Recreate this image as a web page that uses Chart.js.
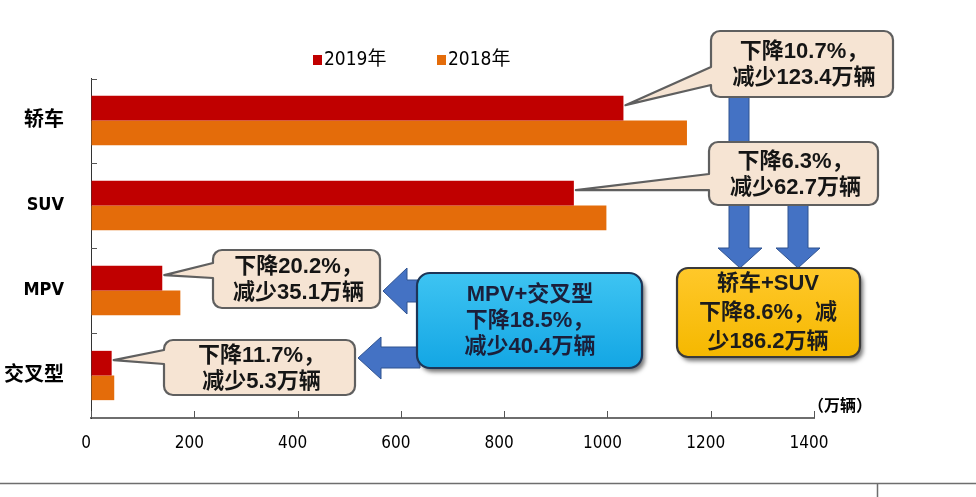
<!DOCTYPE html>
<html>
<head>
<meta charset="utf-8">
<script src="https://cdn.jsdelivr.net/npm/chart.js@4.4.1/dist/chart.umd.min.js"></script>
<style>
	html, body { margin: 0; padding: 0; background: #fff; }
	canvas { display: block; }
</style>
</head>
<body>
<canvas id="salesChart" width="976" height="497"></canvas>
<script>
// 分车型销量（万辆）
const categories = ["轿车", "SUV", "MPV", "交叉型"];
const seriesNames = ["2019年", "2018年"];
const sales2019 = [1031, 935, 138, 40];
const sales2018 = [1154, 998, 173, 45];
const xTicks = [0, 200, 400, 600, 800, 1000, 1200, 1400];
const unitLabel = "（万辆）";

const RED = "#c00000";
const ORANGE = "#e46c0a";
const NARROW = '"DejaVu Sans Condensed", "Noto Sans CJK SC", sans-serif';
const BOLD_FONT = '"Liberation Sans", "Noto Sans CJK SC", sans-serif';

// callout boxes: [x, y, w, h], pointer base on left edge, bar index it points to
const callouts = [
	{ box: [711, 31, 182, 66], base: [67, 85], bar: 0, lines: ["下降10.7%，", "减少123.4万辆"] },
	{ box: [709, 142, 169, 63], base: [174, 190], bar: 1, lines: ["下降6.3%，", "减少62.7万辆"] },
	{ box: [213, 250, 167, 58], base: [263, 278], bar: 2, lines: ["下降20.2%，", "减少35.1万辆"] },
	{ box: [164, 340, 191, 55], base: [350, 364], bar: 3, lines: ["下降11.7%，", "减少5.3万辆"] },
];

function roundRectPath(ctx, x, y, w, h, r) {
	ctx.beginPath();
	ctx.moveTo(x + r, y);
	ctx.lineTo(x + w - r, y);
	ctx.arcTo(x + w, y, x + w, y + r, r);
	ctx.lineTo(x + w, y + h - r);
	ctx.arcTo(x + w, y + h, x + w - r, y + h, r);
	ctx.lineTo(x + r, y + h);
	ctx.arcTo(x, y + h, x, y + h - r, r);
	ctx.lineTo(x, y + r);
	ctx.arcTo(x, y, x + r, y, r);
	ctx.closePath();
}

function bubblePath(ctx, x, y, w, h, r, tip, b1, b2) {
	ctx.beginPath();
	ctx.moveTo(x + r, y);
	ctx.lineTo(x + w - r, y);
	ctx.arcTo(x + w, y, x + w, y + r, r);
	ctx.lineTo(x + w, y + h - r);
	ctx.arcTo(x + w, y + h, x + w - r, y + h, r);
	ctx.lineTo(x + r, y + h);
	ctx.arcTo(x, y + h, x, y + h - r, r);
	ctx.lineTo(x, b2);
	ctx.lineTo(tip.x, tip.y);
	ctx.lineTo(x, b1);
	ctx.lineTo(x, y + r);
	ctx.arcTo(x, y, x + r, y, r);
	ctx.closePath();
}

function centerLines(ctx, lines, cx, cy, gap) {
	const start = cy - (gap * (lines.length - 1)) / 2;
	lines.forEach((t, i) => ctx.fillText(t, cx, start + i * gap));
}

// block arrow, pointing down or left
function blockArrow(ctx, dir, a) {
	ctx.beginPath();
	if (dir === "down") {
		ctx.moveTo(a.s0, a.from);
		ctx.lineTo(a.s1, a.from);
		ctx.lineTo(a.s1, a.head);
		ctx.lineTo(a.h1, a.head);
		ctx.lineTo((a.h0 + a.h1) / 2, a.tip);
		ctx.lineTo(a.h0, a.head);
		ctx.lineTo(a.s0, a.head);
	} else {
		ctx.moveTo(a.from, a.s0);
		ctx.lineTo(a.head, a.s0);
		ctx.lineTo(a.head, a.h0);
		ctx.lineTo(a.tip, (a.h0 + a.h1) / 2);
		ctx.lineTo(a.head, a.h1);
		ctx.lineTo(a.head, a.s1);
		ctx.lineTo(a.from, a.s1);
	}
	ctx.closePath();
	ctx.fillStyle = "#4472c4";
	ctx.fill();
	ctx.strokeStyle = "#2f528f";
	ctx.lineWidth = 1;
	ctx.stroke();
}

const decorPlugin = {
	id: "decor",
	afterDraw(chart) {
		const ctx = chart.ctx;
		const xs = chart.scales.x;
		const ys = chart.scales.y;
		const area = chart.chartArea;
		ctx.save();

		// inner tick marks
		ctx.strokeStyle = "#555";
		ctx.lineWidth = 1;
		xTicks.forEach((v) => {
			const px = Math.round(xs.getPixelForValue(v)) + 0.5;
			ctx.beginPath();
			ctx.moveTo(px, area.bottom);
			ctx.lineTo(px, area.bottom - 7);
			ctx.stroke();
		});
		for (let i = 0; i < categories.length; i++) {
			const py = i === 0
				? area.top + 1.5
				: Math.round((ys.getPixelForValue(i - 1) + ys.getPixelForValue(i)) / 2) + 0.5;
			ctx.beginPath();
			ctx.moveTo(area.left, py);
			ctx.lineTo(area.left + 6, py);
			ctx.stroke();
		}

		// unit label
		ctx.fillStyle = "#000";
		ctx.font = "bold 16px " + NARROW;
		ctx.textAlign = "left";
		ctx.textBaseline = "middle";
		ctx.fillText(unitLabel, area.right - 6, area.bottom - 11);

		// legend
		const legendX = [313, 437];
		chart.data.datasets.forEach((ds, i) => {
			ctx.fillStyle = ds.backgroundColor;
			ctx.fillRect(legendX[i], 55, 9, 10);
			ctx.fillStyle = "#000";
			ctx.font = "19px " + NARROW;
			ctx.fillText(ds.label, legendX[i] + 11, 60);
		});

		// down arrows into the sedan+SUV box
		blockArrow(ctx, "down", { s0: 729, s1: 749, from: 96, head: 248, h0: 718, h1: 762, tip: 268 });
		blockArrow(ctx, "down", { s0: 788, s1: 808, from: 204, head: 248, h0: 776, h1: 820, tip: 268 });
		// left arrows from the MPV+crossover box
		blockArrow(ctx, "left", { s0: 280, s1: 302, from: 420, head: 407, h0: 268, h1: 314, tip: 383 });
		blockArrow(ctx, "left", { s0: 347, s1: 368, from: 420, head: 381, h0: 337, h1: 379, tip: 358 });

		// speech bubbles
		const bars = chart.getDatasetMeta(0).data;
		callouts.forEach((c) => {
			const [x, y, w, h] = c.box;
			const bar = bars[c.bar];
			const tip = { x: bar.x + 2, y: bar.y - 3 };
			bubblePath(ctx, x, y, w, h, 9, tip, c.base[0], c.base[1]);
			ctx.fillStyle = "#f6e4d3";
			ctx.fill();
			ctx.strokeStyle = "#5f5f5f";
			ctx.lineWidth = 2.2;
			ctx.lineJoin = "round";
			ctx.stroke();
			ctx.fillStyle = "#151515";
			ctx.font = "bold 22px " + BOLD_FONT;
			ctx.textAlign = "center";
			ctx.textBaseline = "middle";
			centerLines(ctx, c.lines, x + w / 2 + 2, y + h / 2 + 1, 26);
		});

		// sedan + SUV summary box
		ctx.save();
		ctx.shadowColor = "rgba(0,0,0,0.55)";
		ctx.shadowOffsetX = 3;
		ctx.shadowOffsetY = 4;
		ctx.shadowBlur = 4;
		roundRectPath(ctx, 677, 268, 183, 89, 11);
		let g = ctx.createLinearGradient(0, 268, 0, 357);
		g.addColorStop(0, "#ffc82a");
		g.addColorStop(1, "#f5b800");
		ctx.fillStyle = g;
		ctx.fill();
		ctx.restore();
		roundRectPath(ctx, 677, 268, 183, 89, 11);
		ctx.strokeStyle = "#3a3a3a";
		ctx.lineWidth = 2.2;
		ctx.stroke();
		ctx.fillStyle = "#1c1c1c";
		ctx.font = "bold 22px " + BOLD_FONT;
		centerLines(ctx, ["轿车+SUV", "下降8.6%，减", "少186.2万辆"], 768, 313, 29);

		// MPV + crossover summary box
		ctx.save();
		ctx.shadowColor = "rgba(0,0,0,0.55)";
		ctx.shadowOffsetX = 3;
		ctx.shadowOffsetY = 4;
		ctx.shadowBlur = 4;
		roundRectPath(ctx, 417, 273, 225, 95, 13);
		g = ctx.createLinearGradient(0, 273, 0, 368);
		g.addColorStop(0, "#3ec4f2");
		g.addColorStop(1, "#13a6e4");
		ctx.fillStyle = g;
		ctx.fill();
		ctx.restore();
		roundRectPath(ctx, 417, 273, 225, 95, 13);
		ctx.strokeStyle = "#1d3557";
		ctx.lineWidth = 2.2;
		ctx.stroke();
		ctx.fillStyle = "#1b1f3a";
		centerLines(ctx, ["MPV+交叉型", "下降18.5%，", "减少40.4万辆"], 530, 321, 26);

		// page separator at the bottom
		ctx.strokeStyle = "#6e6e6e";
		ctx.lineWidth = 1.5;
		ctx.beginPath();
		ctx.moveTo(0, 483.5);
		ctx.lineTo(976, 483.5);
		ctx.moveTo(877.5, 484);
		ctx.lineTo(877.5, 497);
		ctx.stroke();

		ctx.restore();
	},
};

const ctx = document.getElementById("salesChart").getContext("2d");
new Chart(ctx, {
	type: "bar",
	data: {
		labels: categories,
		datasets: [
			{
				label: seriesNames[0],
				data: sales2019,
				backgroundColor: RED,
				categoryPercentage: 0.58,
				barPercentage: 1,
			},
			{
				label: seriesNames[1],
				data: sales2018,
				backgroundColor: ORANGE,
				categoryPercentage: 0.58,
				barPercentage: 1,
			},
		],
	},
	options: {
		indexAxis: "y",
		responsive: false,
		animation: false,
		layout: { padding: { top: 78, right: 162, bottom: 39, left: 0 } },
		plugins: {
			legend: { display: false },
			tooltip: { enabled: false },
		},
		scales: {
			x: {
				min: 0,
				max: 1400,
				afterBuildTicks: (scale) => {
					scale.ticks = xTicks.map((v) => ({ value: v }));
				},
				ticks: {
					color: "#000",
					font: { family: NARROW, size: 17 },
					padding: 15,
					labelOffset: -5,
					callback: (v) => String(v),
				},
				grid: { drawOnChartArea: false, drawTicks: false },
				border: { color: "#6e6e6e", width: 2 },
				afterFit: (scale) => {
					scale.height = 40;
				},
			},
			y: {
				ticks: {
					color: "#000",
					font: (c) => ({
						family: NARROW,
						weight: "bold",
						size: /^[A-Z]+$/.test(categories[c.index]) ? 18 : 20,
					}),
					padding: 19,
				},
				grid: { display: false },
				border: { color: "#333", width: 1 },
				afterFit: (scale) => {
					scale.width = 91;
				},
			},
		},
	},
	plugins: [decorPlugin],
});
</script>
</body>
</html>
